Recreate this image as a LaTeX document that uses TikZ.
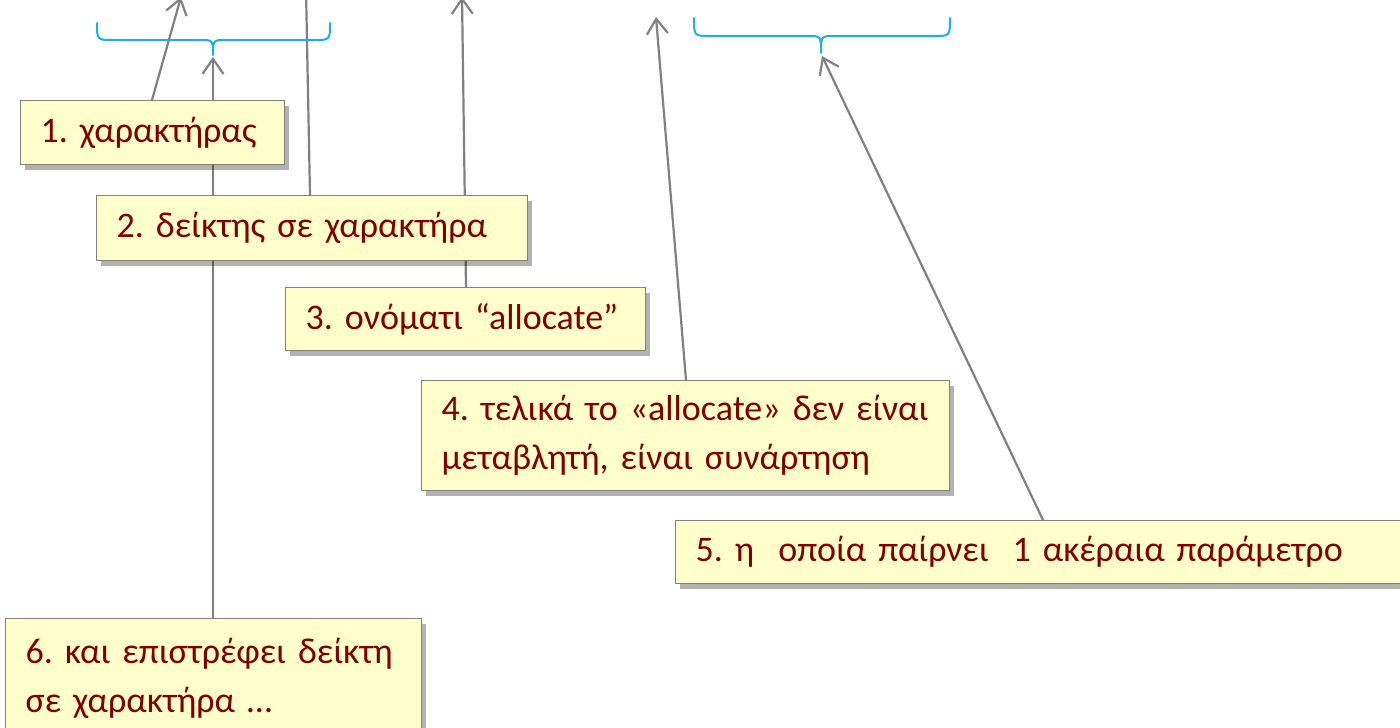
\documentclass[tikz,border=0pt]{standalone}
\usepackage{fontspec}
\setmainfont{Carlito}
\usetikzlibrary{arrows.meta,shadows,backgrounds}
\definecolor{boxfill}{HTML}{FFFFCC}
\definecolor{boxtext}{HTML}{800000}
\definecolor{bracecol}{HTML}{1AAFEA}
\definecolor{linegray}{HTML}{808080}
\frenchspacing
\tikzset{
  notebox/.style={draw=linegray, line width=1.3pt, fill=boxfill, anchor=north west,
    inner xsep=20pt, inner ysep=0pt, align=left, text=boxtext,
    font=\fontsize{36}{49}\selectfont,
    drop shadow={shadow xshift=4pt, shadow yshift=-5pt, fill=black, opacity=0.3}},
  conn/.style={draw=linegray, line width=2.2pt},
  arr/.style={conn, -{Straight Barb[length=15pt,width=21pt,line width=2.2pt]}},
  bracepath/.style={draw=bracecol, line width=2pt, line cap=round, line join=round}
}
\begin{document}
\begin{tikzpicture}[x=1pt,y=-1pt]
\useasboundingbox (0,0) rectangle (1400,728);
% boxes
\node[notebox, text width=224pt, minimum height=64pt] (b1) at (20,100) {1. χαρακτήρας};
\node[notebox, text width=391pt, minimum height=65pt] (b2) at (96,195) {2. δείκτης σε χαρακτήρα};
\node[notebox, text width=320pt, minimum height=63pt] (b3) at (285,287) {3. ονόματι “allocate”};
\node[notebox, text width=488pt, minimum height=110pt] (b4) at (421,380) {4. τελικά το «allocate» δεν είναι\\μεταβλητή, είναι συνάρτηση};
\node[notebox, text width=705pt, minimum height=63pt] (b5) at (675,520) {5. η~ οποία παίρνει~ 1 ακέραια παράμετρο};
\node[notebox, text width=376pt, minimum height=119pt] (b6) at (5,618) {6. και επιστρέφει δείκτη\\σε χαρακτήρα …};
% free ends
\coordinate (t1) at (181,-3);
\coordinate (t2) at (306,-10);
\coordinate (t3) at (462,-3);
\coordinate (t4) at (656,17);
\coordinate (t5) at (822,56);
\coordinate (t6) at (213,57);
\begin{scope}[on background layer]
\draw[arr] ([xshift=132pt]b1.north west) -- (t1);
\draw[conn] ([xshift=214pt]b2.north west) -- (t2);
\draw[arr] ([xshift=181pt]b3.north west) -- (t3);
\draw[arr] ([xshift=265pt]b4.north west) -- (t4);
\draw[arr] ([xshift=368pt]b5.north west) -- (t5);
\draw[arr] ([xshift=208pt]b6.north west) -- (t6);
\end{scope}
% braces
\draw[bracepath] (97,23) .. controls (97,40) .. (113,40) -- (200,40) .. controls (213,40) .. (213,55)
  .. controls (213,40) .. (226,40) -- (314,40) .. controls (330,40) .. (330,23);
\draw[bracepath] (694,18) .. controls (694,36) .. (710,36) -- (808,36) .. controls (821,36) .. (821,53)
  .. controls (821,36) .. (834,36) -- (934,36) .. controls (950,36) .. (950,18);
\end{tikzpicture}
\end{document}
